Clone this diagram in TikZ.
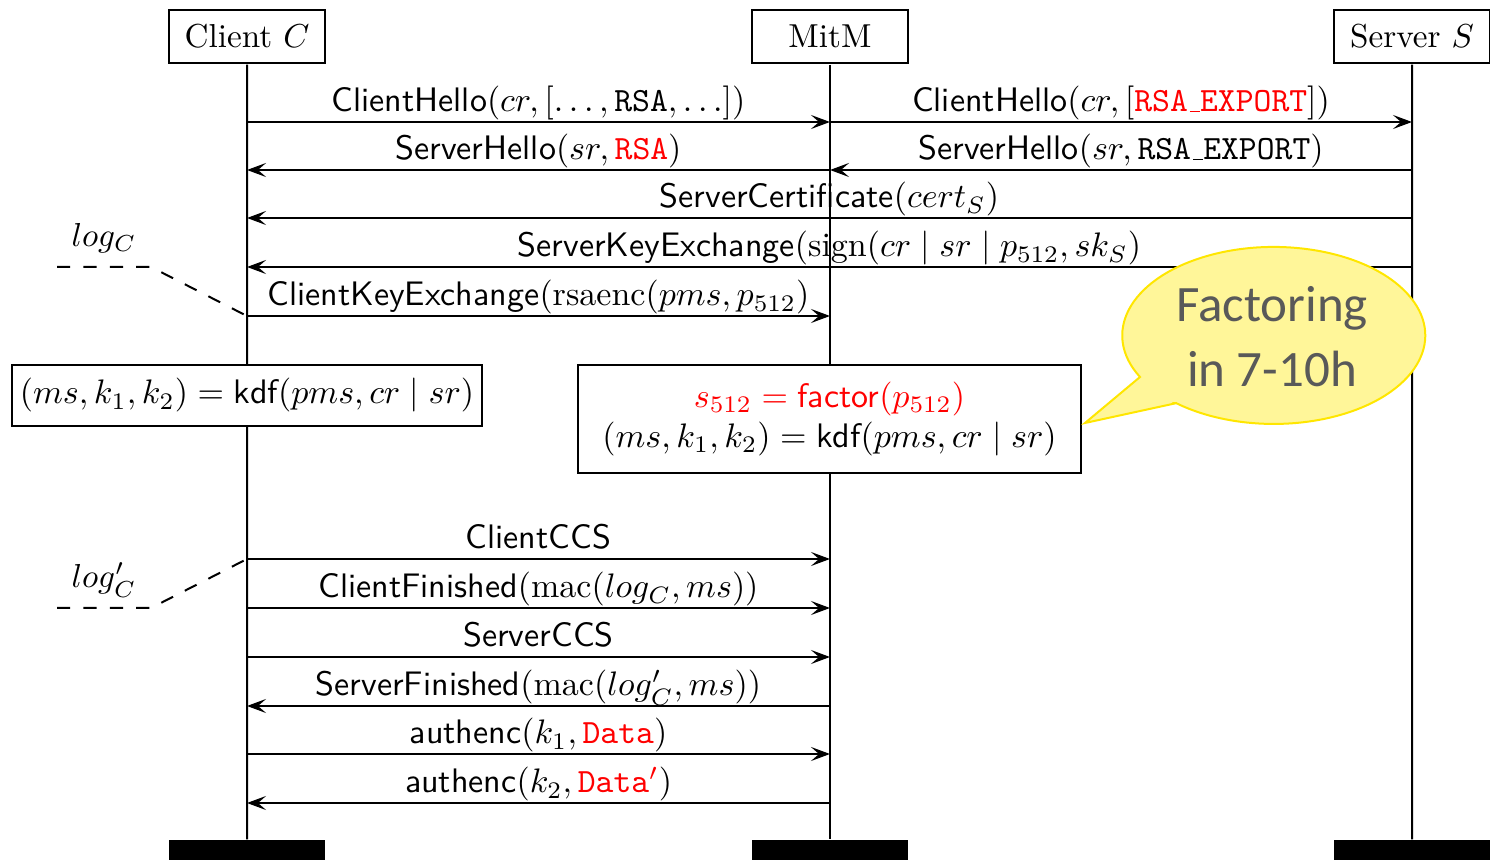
\documentclass[tikz,border=0pt]{standalone}
\usepackage{fontspec}
\newfontfamily\calloutfont{Carlito}
\usetikzlibrary{arrows.meta}
\definecolor{msgred}{RGB}{255,0,0}
\definecolor{calloutfill}{RGB}{255,246,153}
\definecolor{calloutedge}{RGB}{255,230,0}
\definecolor{callouttext}{RGB}{89,89,89}
\newcommand\Sf[1]{\textsf{#1}}
\newcommand\Tt[1]{\texttt{#1}}
% short underscore rule between typewriter letters
\newcommand\Us{\kern.06em\vbox{\hrule width.3em}}

\begin{document}
\begin{tikzpicture}[x=0.5pt,y=-0.5pt,
  txt/.style={font=\fontsize{10}{12}\selectfont, scale=1.66},
  txtl/.style={font=\fontsize{10}{12}\selectfont, scale=1.70},
  party/.style={draw, line width=1pt, fill=white, minimum width=47pt, minimum height=15.96pt, inner sep=0pt, txt},
  endbar/.style={fill=black, minimum width=47pt, minimum height=6.02pt, inner sep=0pt, txt},
  life/.style={line width=1pt},
  msg/.style={line width=1pt, -{Stealth[length=9.5pt,width=7pt,inset=4pt]}},
  lab/.style={anchor=base, yshift=5pt, inner sep=0pt, txtl},
  calcbox/.style={draw, line width=1pt, fill=white, inner sep=0pt, txtl},
  logline/.style={line width=1pt, dash pattern=on 6.6pt off 6.6pt},
  loglab/.style={anchor=base, inner sep=0pt, txt},
  callout/.style={font=\calloutfont\fontsize{25.5}{30}\selectfont, text=callouttext, anchor=base, inner sep=0pt},
]
\useasboundingbox (0,0) rectangle (1490,860);

% parties and their end bars
\node[party] (C) at (247,36.5) {Client $C$};
\node[party] (M) at (830,36.5) {MitM};
\node[party] (S) at (1412,36.5) {Server $S$};
\node[endbar] (Ce) at (247,850) {};
\node[endbar] (Me) at (830,850) {};
\node[endbar] (Se) at (1412,850) {};

% lifelines
\draw[life] (C) -- (Ce);
\draw[life] (M) -- (Me);
\draw[life] (S) -- (Se);

% message rows
\foreach \n/\y in {1/122,2/170,3/218,4/267,5/316,6/559,7/608,8/657,9/706,10/754,11/803}
  \coordinate (r\n) at (0,\y);

% handshake
\draw[msg] (C |- r1) -- node[lab]{$\Sf{ClientHello}(cr, [\ldots, \Tt{RSA}, \ldots])$} (M |- r1);
\draw[msg] (M |- r1) -- node[lab]{$\Sf{ClientHello}(cr, [\textcolor{msgred}{\Tt{RSA\Us EXPORT}}])$} (S |- r1);
\draw[msg] (M |- r2) -- node[lab]{$\Sf{ServerHello}(sr, \textcolor{msgred}{\Tt{RSA}})$} (C |- r2);
\draw[msg] (S |- r2) -- node[lab]{$\Sf{ServerHello}(sr, \Tt{RSA\Us EXPORT})$} (M |- r2);
\draw[msg] (S |- r3) -- node[lab]{$\Sf{ServerCertificate}(cert_S)$} (C |- r3);
\draw[msg] (S |- r4) -- node[lab]{$\Sf{ServerKeyExchange}(\mathrm{sign}(cr \mid sr \mid p_{512}, sk_S)$} (C |- r4);
\draw[msg] (C |- r5) -- node[lab]{$\Sf{ClientKeyExchange}(\mathrm{rsaenc}(pms, p_{512})$} (M |- r5);

% key derivation
\node[calcbox, minimum width=138.2pt, minimum height=17.94pt] (kC) at (247,395.5)
  {$(ms, k_1, k_2) = \Sf{kdf}(pms, cr \mid sr)$};
\node[calcbox, minimum width=147.9pt, minimum height=31.76pt, align=center,
      font=\fontsize{10}{12}\selectfont] (kM) at (829.5,419)
  {\textcolor{msgred}{$s_{512} = \Sf{factor}(p_{512})$}\\$(ms, k_1, k_2) = \Sf{kdf}(pms, cr \mid sr)$};

% finished and data
\draw[msg] (C |- r6) -- node[lab]{\Sf{ClientCCS}} (M |- r6);
\draw[msg] (C |- r7) -- node[lab]{$\Sf{ClientFinished}(\mathrm{mac}(log_C, ms))$} (M |- r7);
\draw[msg] (C |- r8) -- node[lab]{\Sf{ServerCCS}} (M |- r8);
\draw[msg] (M |- r9) -- node[lab]{$\Sf{ServerFinished}(\mathrm{mac}(log'_C, ms))$} (C |- r9);
\draw[msg] (C |- r10) -- node[lab]{$\Sf{authenc}(k_1, \textcolor{msgred}{\Tt{Data}})$} (M |- r10);
\draw[msg] (M |- r11) -- node[lab]{$\Sf{authenc}(k_2, \textcolor{msgred}{\Tt{Data}'})$} (C |- r11);

% transcript markers
\node[loglab] (lg1) at (104,247) {$log_C$};
\coordinate (d1) at (57,267);
\coordinate (d1b) at (151,267);
\draw[logline] (d1) -- (d1b) -- (C |- r5);
\node[loglab] (lg2) at (104,588) {$log'_C$};
\coordinate (d2) at (57,608);
\coordinate (d2b) at (151,608);
\draw[logline] (d2) -- (d2b) -- (C |- r6);

% callout
\draw[line width=1pt, draw=calloutedge, fill=calloutfill]
  (1177,403) -- (1085,423) -- (1140,377)
  arc[start angle=152, end angle=490.2, x radius=151.5, y radius=88.5] -- cycle;
\node[callout] (f1) at (1272,322) {Factoring};
\node[callout] (f2) at (1272,387) {in 7-10h};
\end{tikzpicture}
\end{document}
